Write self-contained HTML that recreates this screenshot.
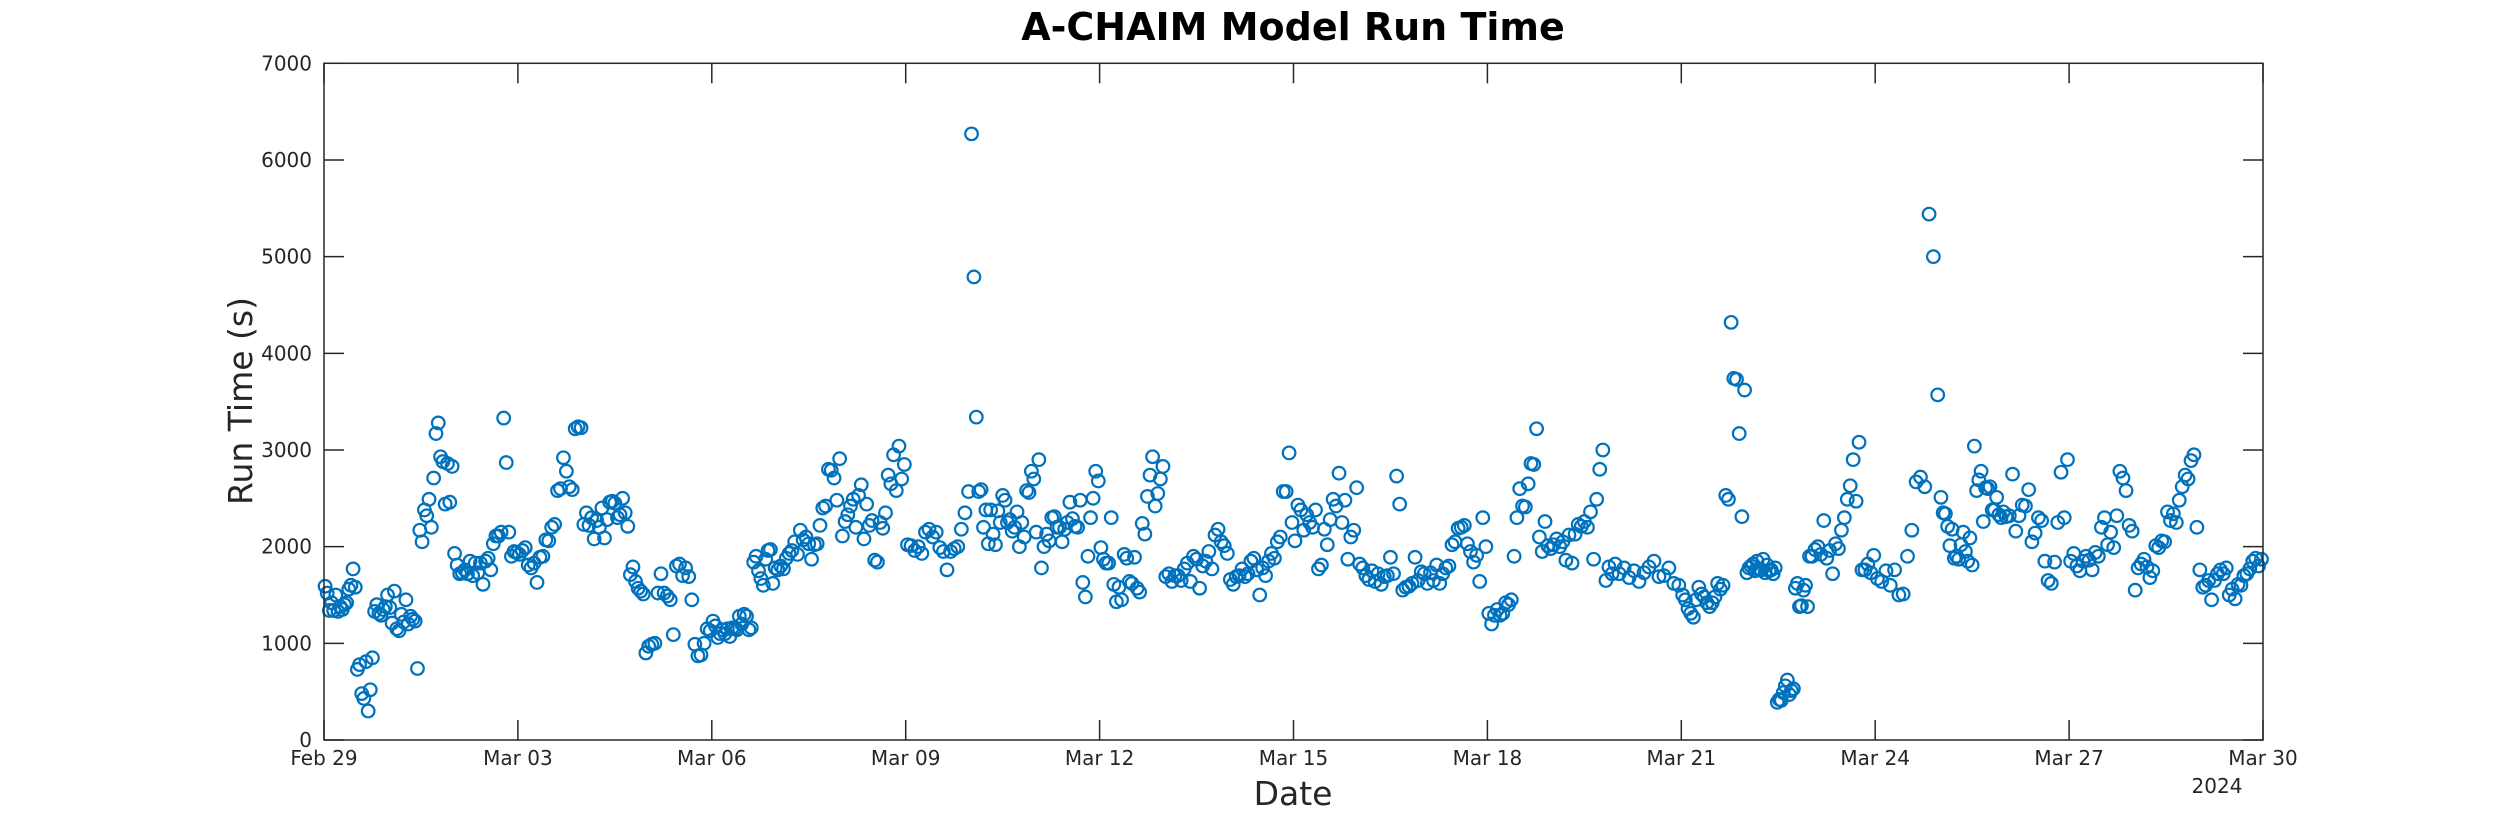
<!DOCTYPE html>
<html><head><meta charset="utf-8"><style>
html,body{margin:0;padding:0;background:#fff;}
svg{display:block;font-family:"DejaVu Sans","Liberation Sans",sans-serif;}
</style></head><body>
<svg id="chart" width="2500" height="833" viewBox="0 0 2500 833">
<rect x="0" y="0" width="2500" height="833" fill="#fff"/>
<text x="1293" y="40" text-anchor="middle" font-size="38" font-weight="bold" fill="#000">A-CHAIM Model Run Time</text>
<text x="1293" y="805" text-anchor="middle" font-size="33" fill="#262626">Date</text>
<text transform="translate(252,401) rotate(-90)" text-anchor="middle" font-size="33" fill="#262626">Run Time (s)</text>
<g id="axes"></g>
<g id="points"></g>
<rect x="324" y="63.3" width="1939" height="676.7" fill="none" stroke="#262626" stroke-width="1.5"/>
</svg>
<script>
const xTickLabels = ["Feb 29","Mar 03","Mar 06","Mar 09","Mar 12","Mar 15","Mar 18","Mar 21","Mar 24","Mar 27","Mar 30"];
const xTickDays = [0,3,6,9,12,15,18,21,24,27,30];
const yTicks = [0,1000,2000,3000,4000,5000,6000,7000];
const d0=[1590,1520,1340,1420,1340,1500,1330,1380,1350,1400,1420,1560,1600,1770,1580,730,780,480,430,810,300,520,850,1330,1400,1310,1290,1350,1380,1500];
const d1=[1370,1210,1540,1150,1130,1300,1220,1450,1200,1280,1250,1230,740,2170,2050,2380,2320,2490,2200,2710,3170,3280,2930,2880,2440,2860,2460,2830];
const d2=[1930,1810,1720,1730,1760,1720,1850,1700,1830,1730,1830,1610,1850,1880,1760,2030,2110,2110,2150,3330,2870,2150,1900,1950,1940];
const d3=[1920,1960,1990,1810,1780,1830,1630,1890,1900,2070,2060,2200,2230,2580,2600,2920,2780,2620,2590,3220,3240,3230];
const d4=[2230,2350,2220,2300,2080,2270,2200,2400,2090,2280,2460,2470,2450,2300,2330,2500,2350,2210,1710,1790,1640,1570,1540,1510,900];
const d5=[970,990,1000,1520,1720,1520,1490,1450,1090,1800,1820,1700,1780,1690,1450,990,870,880,1000,1150,1130];
const d6=[1230,1180,1060,1100,1140,1100,1150,1070,1160,1150,1140,1280,1200,1300,1280,1140,1160,1840,1900,1750,1670,1600,1870,1960,1970,1620,1780];
const d7=[1760,1800,1770,1880,1930,1960,2050,1920,2170,2070,2100,2030,1870,2020,2030,2220,2400,2420,2800,2790,2710,2480,2910];
const d8=[2110,2260,2330,2420,2490,2200,2530,2640,2080,2440,2220,2270,1860,1840,2250,2190,2350,2740,2650,2950,2580,3040,2700,2850];
const d9=[2020,2010,1960,2000,1930,2150,2180,2100,2150,1990,1950,1760,1950,1980,2000,2180,2350,2570];
const d10=[6270,4790,3340,2570,2590,2200,2380,2030,2380,2130,2020,2370,2250,2530,2480,2250,2280,2160,2200,2360,2000,2250,2100,2580,2560,2780,2700];
const d11=[2150,2900,1780,2000,2130,2060,2300,2310,2200,2200,2050,2180,2250,2460,2290,2210,2200,2480,1630,1480,1900,2300,2500,2780,2680];
const d12=[1990,1870,1830,1830,2300,1610,1430,1580,1450,1920,1880,1640,1620,1890,1570,1530,2240,2130,2520,2740,2930,2420,2550,2700,2830];
const d13=[1690,1720,1640,1700,1700,1650,1770,1830,1640,1900,1870,1570,1800,1850,1950,1770,2120,2180,2050,2010,1930];
const d14=[1660,1610,1690,1700,1770,1690,1720,1850,1880,1760,1500,1780,1700,1850,1930,1880,2050,2100,2570,2570,2970,2250];
const d15=[2060,2430,2380,2170,2330,2250,2200,2380,1770,1810,2180,2020,2280,2490,2420,2760,2250,2480,1870,2100,2170,2610];
const d16=[1820,1780,1700,1660,1750,1640,1720,1610,1690,1700,1890,1720,2730,2440,1550,1580,1590,1620,1890,1650,1740];
const d17=[1720,1620,1730,1650,1810,1620,1720,1780,1800,2020,2050,2190,2200,2220,2030,1950,1840,1910,1640,2300,2000];
const d18=[1310,1200,1290,1350,1290,1310,1420,1400,1450,1900,2300,2600,2420,2410,2650,2860,2850,3220,2100,1950,2260,2010,1980];
const d19=[2020,2080,2000,2050,1860,2120,1830,2130,2230,2210,2260,2200,2360,1870,2490,2800,3000,1650,1790,1720,1820];
const d20=[1720,1780,1680,1750,1640,1730,1790,1850,1690,1700,1780,1620,1600];
const d21=[1500,1450,1360,1310,1270,1450,1580,1510,1480,1420,1380,1420,1480,1620,1560,1600,2530,2490,4320,3740,3730,3170,2310,3620];
const d22=[1730,1780,1800,1820,1750,1850,1760,1760,1870,1730,1810,1750,1760,1720,1780,390,420,410,490,560,620,470,510,530,1570,1620,1380,1390,1550,1600,1380,1900];
const d23=[1900,1970,2000,1920,2270,1880,1960,1720,2030,1980,2170,2300,2490,2630,2900,2470,3080,1760,1760,1820,1730,1910];
const d24=[1670,1640,1750,1600,1760,1500,1510,1900,2170,2670,2720,2620,5440,5000,3570];
const d25=[2510,2350,2340,2210,2010,2180,1880,1900,1870,2020,2150,1950,1850,2090,1810,3040,2580,2690,2780,2260,2610,2600,2620,2380,2380,2510,2330,2300,2360];
const d26=[2310,2320,2750,2160,2320,2430,2420,2590,2050,2140,2300,2270,1850,1650,1620,1840,2250,2770,2300,2900];
const d27=[1850,1930,1800,1750,1850,1900,1860,1760,1940,1900,2200,2300,2020,2150,1990,2320,2780,2710,2580,2220,2160];
const d28=[1550,1780,1820,1870,1790,1680,1750,2010,1990,2060,2050,2360,2270,2340,2250,2480,2620,2740,2700,2890,2950,2200];
const d29=[1760,1580,1600,1650,1450,1650,1720,1760,1720,1780,1500,1560,1460,1610,1600,1700,1720,1770,1850,1880,1800,1870];
const runTimesByDay=[d0,d1,d2,d3,d4,d5,d6,d7,d8,d9,d10,d11,d12,d13,d14,d15,d16,d17,d18,d19,d20,d21,d22,d23,d24,d25,d26,d27,d28,d29];

const NS="http://www.w3.org/2000/svg";
const L=324,R=2263,T=63.3,B=740,DAYS=30,YMAX=7000;
function xScale(d){return L+d*(R-L)/DAYS;}
function yScale(v){return B-v*(B-T)/YMAX;}
function mk(tag,attrs,parent){const e=document.createElementNS(NS,tag);for(const k in attrs)e.setAttribute(k,attrs[k]);parent.appendChild(e);return e;}
const axes=document.getElementById('axes');
yTicks.forEach(v=>{
  const y=yScale(v);
  const t1=mk('line',{x1:L,y1:y,x2:L+20,y2:y,stroke:'#262626','stroke-width':1.5},axes);
  
  
  const t2=mk('line',{x1:R-20,y1:y,x2:R,y2:y,stroke:'#262626','stroke-width':1.5},axes);
  
  
  const lb=mk('text',{x:L-12,y:y+7,'text-anchor':'end','font-size':20,fill:'#262626'},axes);
  lb.textContent=String(v);
  
  
});
xTickDays.forEach((d,i)=>{
  const x=xScale(d);
  const t1=mk('line',{x1:x,y1:B,x2:x,y2:B-20,stroke:'#262626','stroke-width':1.5},axes);
  
  
  const t2=mk('line',{x1:x,y1:T,x2:x,y2:T+20,stroke:'#262626','stroke-width':1.5},axes);
  
  
  const lb=mk('text',{x:x,y:765,'text-anchor':'middle','font-size':20,fill:'#262626'},axes);
  lb.textContent=xTickLabels[i];
  
  
});
const yr=mk('text',{x:2217,y:793,'text-anchor':'middle','font-size':20,fill:'#262626'},axes);
yr.textContent='2024';


const pts=document.getElementById('points');
runTimesByDay.forEach((arr,day)=>{
  arr.forEach((v,i)=>{
    const c=mk('circle',{cx:xScale(day+(i+0.5)/arr.length),cy:yScale(v),r:6.3,fill:'none',stroke:'#0072BD','stroke-width':2.2},pts);
    
    
  });
});
</script>
</body></html>
